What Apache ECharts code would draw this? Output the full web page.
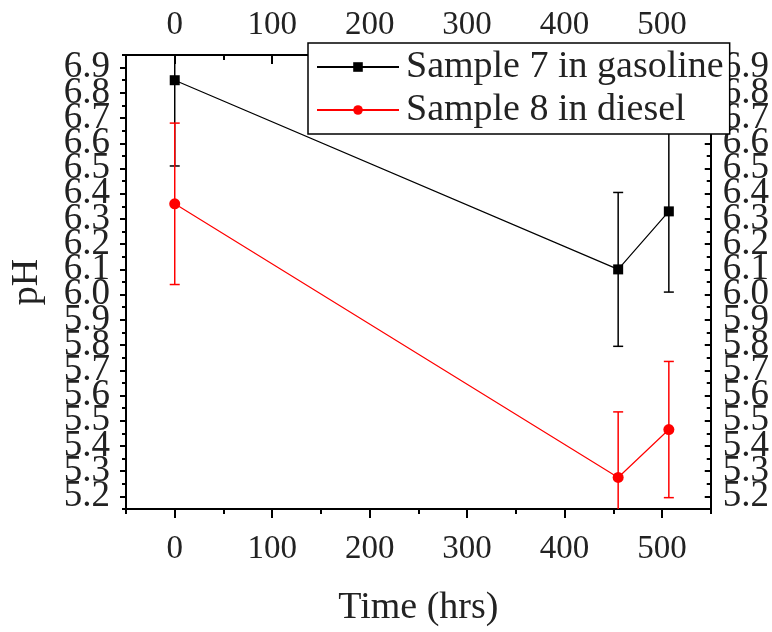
<!DOCTYPE html>
<html><head><meta charset="utf-8">
<script src="https://cdn.jsdelivr.net/npm/echarts@6/dist/echarts.min.js"></script>
<style>html,body{margin:0;padding:0;background:#fff}#c{width:772px;height:632px}</style>
</head><body><div id="c"></div>
<script>
var seriesNames = ['Sample 7 in gasoline', 'Sample 8 in diesel'];
var timeHrs = [0, 455, 507];
var ph7 = [6.85, 6.10, 6.33];
var err7 = [0.34, 0.305, 0.32];
var ph8 = [6.36, 5.275, 5.465];
var err8 = [0.32, 0.26, 0.27];
var xTicks = [0, 100, 200, 300, 400, 500];
var yTicks = [5.2, 5.3, 5.4, 5.5, 5.6, 5.7, 5.8, 5.9, 6.0, 6.1, 6.2, 6.3, 6.4, 6.5, 6.6, 6.7, 6.8, 6.9];

var FONT = '"Liberation Serif", "Times New Roman", serif';
var TXT = '#222';
var X_MIN = -50, X_MAX = 550, Y_MIN = 5.15, Y_MAX = 6.95;

// labels overlap in the original; split into two label sets so ECharts does not drop any
var yTicksA = yTicks.filter(function (v, i) { return i % 2 === 0; });
var yTicksB = yTicks.filter(function (v, i) { return i % 2 === 1; });

function pts(vals) { return timeHrs.map(function (t, i) { return [t, vals[i]]; }); }
function errData(vals, errs) { return timeHrs.map(function (t, i) { return [t, vals[i] - errs[i], vals[i] + errs[i]]; }); }

function errRender(color) {
  return function (params, api) {
    var x = api.value(0);
    var lo = api.coord([x, api.value(1)]);
    var hi = api.coord([x, api.value(2)]);
    var w = 5;
    var st = { stroke: color, lineWidth: 1.5 };
    return {
      type: 'group',
      children: [
        { type: 'line', shape: { x1: lo[0], y1: lo[1], x2: hi[0], y2: hi[1] }, style: st },
        { type: 'line', shape: { x1: lo[0] - w, y1: lo[1], x2: lo[0] + w, y2: lo[1] }, style: st },
        { type: 'line', shape: { x1: hi[0] - w, y1: hi[1], x2: hi[0] + w, y2: hi[1] }, style: st }
      ]
    };
  };
}

var axLine = { show: true, onZero: false, lineStyle: { color: '#000', width: 2 } };
var noLine = { show: false, onZero: false };
function yLabel(vals, margin) {
  return { show: true, margin: margin, fontFamily: FONT, fontSize: 37, color: TXT, customValues: vals,
    showMinLabel: true, showMaxLabel: true, hideOverlap: false,
    formatter: function (v) { return v.toFixed(1); } };
}
function yAx(pos, opts) {
  return Object.assign({ type: 'value', position: pos, min: Y_MIN, max: Y_MAX,
    axisLine: noLine, splitLine: { show: false }, axisTick: { show: false }, axisLabel: { show: false } }, opts);
}
var chart = echarts.init(document.getElementById('c'), null, { renderer: 'canvas' });
chart.setOption({
  backgroundColor: '#fff',
  animation: false,
  grid: { left: 122, right: 58, top: 55, bottom: 112, containLabel: false },
  legend: {
    orient: 'vertical', left: 308, top: 43,
    backgroundColor: '#fff', borderColor: '#000', borderWidth: 1.5,
    padding: [5, 6, 5, 8], itemGap: 5, itemWidth: 82, itemHeight: 12,
    textStyle: { fontFamily: FONT, fontSize: 38, color: TXT, padding: [0, 0, 0, 2] },
    data: seriesNames
  },
  xAxis: [
    { type: 'value', position: 'bottom', min: X_MIN, max: X_MAX,
      name: 'Time (hrs)', nameLocation: 'middle', nameGap: 80,
      nameTextStyle: { fontFamily: FONT, fontSize: 38, color: TXT },
      axisLine: axLine, splitLine: { show: false },
      axisTick: { show: true, inside: false, length: 9, lineStyle: { width: 2, color: '#000' }, customValues: xTicks },
      axisLabel: { show: true, margin: 24, fontFamily: FONT, fontSize: 33, color: TXT, customValues: xTicks } },
    { type: 'value', position: 'bottom', min: X_MIN, max: X_MAX, interval: 50,
      axisLine: noLine, splitLine: { show: false },
      axisTick: { show: true, inside: false, length: 5, lineStyle: { width: 2, color: '#000' } },
      axisLabel: { show: false } },
    { type: 'value', position: 'top', min: X_MIN, max: X_MAX,
      axisLine: axLine, splitLine: { show: false },
      axisTick: { show: true, inside: true, length: 9, lineStyle: { width: 2, color: '#000' }, customValues: xTicks },
      axisLabel: { show: true, margin: 13, fontFamily: FONT, fontSize: 33, color: TXT, customValues: xTicks } },
    { type: 'value', position: 'top', min: X_MIN, max: X_MAX, interval: 50,
      axisLine: noLine, splitLine: { show: false },
      axisTick: { show: true, inside: true, length: 5, lineStyle: { width: 2, color: '#000' } },
      axisLabel: { show: false } }
  ],
  yAxis: [
    yAx('left', { name: 'pH', nameLocation: 'middle', nameGap: 80,
      nameTextStyle: { fontFamily: FONT, fontSize: 38, color: TXT },
      axisLine: axLine,
      axisTick: { show: true, inside: false, length: 6, lineStyle: { width: 2, color: '#000' }, customValues: yTicks },
      axisLabel: yLabel(yTicksA, 16) }),
    yAx('left', { axisLabel: yLabel(yTicksB, 16) }),
    yAx('left', { interval: 0.05,
      axisTick: { show: true, inside: false, length: 4, lineStyle: { width: 2, color: '#000' } } }),
    yAx('right', { axisLine: axLine,
      axisTick: { show: true, inside: true, length: 6, lineStyle: { width: 2, color: '#000' }, customValues: yTicks },
      axisLabel: yLabel(yTicksA, 12) }),
    yAx('right', { axisLabel: yLabel(yTicksB, 12) }),
    yAx('right', { interval: 0.05,
      axisTick: { show: true, inside: true, length: 4, lineStyle: { width: 2, color: '#000' } } })
  ],
  series: [
    { type: 'custom', name: seriesNames[0] + ' err', xAxisIndex: 0, yAxisIndex: 0, clip: true,
      renderItem: errRender('#000'), data: errData(ph7, err7), z: 2, silent: true },
    { type: 'custom', name: seriesNames[1] + ' err', xAxisIndex: 0, yAxisIndex: 0, clip: true,
      renderItem: errRender('#ff0000'), data: errData(ph8, err8), z: 2, silent: true },
    { type: 'line', name: seriesNames[0], xAxisIndex: 0, yAxisIndex: 0, data: pts(ph7),
      symbol: 'rect', symbolSize: 10, showAllSymbol: true,
      lineStyle: { color: '#000', width: 1.2 }, itemStyle: { color: '#000' }, z: 3 },
    { type: 'line', name: seriesNames[1], xAxisIndex: 0, yAxisIndex: 0, data: pts(ph8),
      symbol: 'circle', symbolSize: 11, showAllSymbol: true,
      lineStyle: { color: '#ff0000', width: 1.2 }, itemStyle: { color: '#ff0000' }, z: 3 }
  ]
});
</script></body></html>
